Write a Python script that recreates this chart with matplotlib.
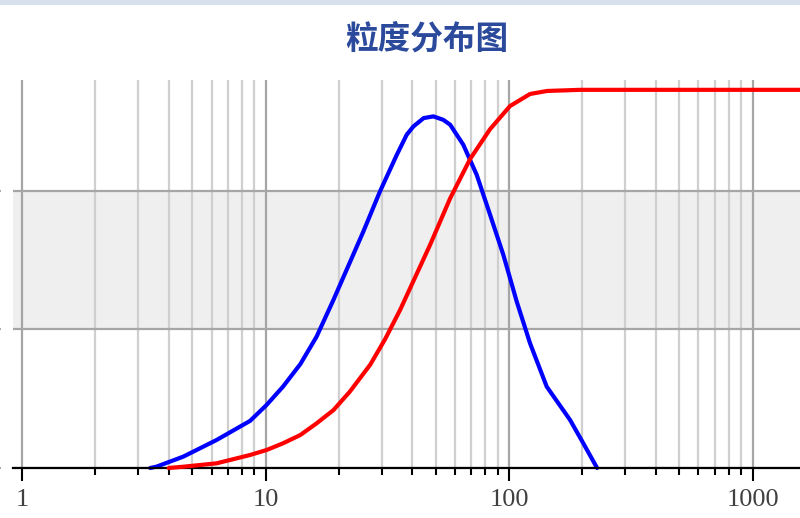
import numpy as np
import matplotlib
matplotlib.use("Agg")
import matplotlib.pyplot as plt
from matplotlib.patches import Rectangle
from matplotlib.ticker import LogLocator, NullFormatter, FixedLocator, FixedFormatter

# ---------------------------------------------------------------------
# data (particle size in um)
size_diff = [3.36, 3.57, 4.60, 6.30, 8.64, 10.1, 11.8, 13.9, 16.2, 19.0,
             25.2, 29.5, 34.6, 38.0, 40.5, 44.6, 48.9, 53.7, 57.3, 61.0,
             64.9, 73.7, 83.6, 94.8, 107.6, 122, 142.8, 178, 202, 230]
pct_diff = [0.0, 0.04, 0.33, 0.81, 1.36, 1.82, 2.35, 3.00, 3.79, 4.85,
            6.82, 7.98, 9.04, 9.62, 9.86, 10.10, 10.15, 10.05, 9.91, 9.62,
            9.33, 8.46, 7.31, 6.15, 4.80, 3.60, 2.35, 1.39, 0.71, 0.0]

size_cum = [4.0, 4.6, 6.3, 8.64, 10.1, 11.8, 13.9, 16.2, 19.0, 22.2,
            26.9, 31.0, 35.7, 47.4, 57.3, 69.2, 83.6, 100.9, 122, 143.3,
            196, 1600]
pct_cum = [0.0, 0.34, 1.24, 3.44, 4.76, 6.53, 8.73, 11.8, 15.3, 20.2,
           27.3, 34.1, 41.8, 59.0, 71.3, 81.7, 89.6, 95.7, 98.9, 99.7,
           100.0, 100.0]

x_ticks = [1, 10, 100, 1000]
x_labels = ["1", "10", "100", "1000"]
y_grid = [0, 4, 8]

TITLE = "粒度分布图"

# ---------------------------------------------------------------------
W, H = 800, 518
fig = plt.figure(figsize=(W / 100, H / 100), dpi=100)
fig.patch.set_facecolor("white")

# thin strip on top
fig.patches.append(Rectangle((0, 1 - 5 / H), 1, 5 / H, transform=fig.transFigure,
                             facecolor="#d7e0ec", edgecolor="none", zorder=0))

left, right, bottom, top = 13, 800, 468, 80
ax = fig.add_axes([left / W, 1 - bottom / H, (right - left) / W, (bottom - top) / H])
ax.set_xscale("log")
ax.set_xlim(0.918, 1567)
ax.set_ylim(0, 11.2)

# alternating band
ax.axhspan(4, 8, color="#efefef", zorder=0, lw=0)

# grid
ax.xaxis.set_major_locator(FixedLocator(x_ticks))
ax.xaxis.set_major_formatter(FixedFormatter(x_labels))
ax.xaxis.set_minor_locator(LogLocator(base=10, subs=np.arange(2, 10)))
ax.xaxis.set_minor_formatter(NullFormatter())
ax.grid(True, which="major", axis="x", color="#a6a6a6", lw=1.6, zorder=1)
ax.grid(True, which="minor", axis="x", color="#cfcfcf", lw=1.6, zorder=1)
ax.set_yticks(y_grid)
ax.set_yticklabels([])
ax.grid(True, which="major", axis="y", color="#a6a6a6", lw=1.6, zorder=1)
ax.set_axisbelow(True)

for s in ["top", "right"]:
    ax.spines[s].set_visible(False)
ax.spines["left"].set_position(("outward", 9))
ax.spines["left"].set_visible(False)
ax.spines["bottom"].set_color("black")
ax.spines["bottom"].set_linewidth(1.6)
ax.spines["bottom"].set_zorder(5)

ax.tick_params(axis="x", which="major", length=9.5, width=1.5, color="black",
               pad=5.5, labelsize=19, labelcolor="#404040")
ax.tick_params(axis="x", which="minor", length=5, width=1.5, color="black")
ax.tick_params(axis="y", which="major", length=3, width=1.2, color="#999999")
for lab in ax.get_xticklabels():
    lab.set_fontfamily("Liberation Serif")

# differential curve (left scale)
ax.plot(size_diff, pct_diff, color="#0000ff", lw=3.0, zorder=4,
        solid_joinstyle="round", solid_capstyle="round", clip_on=False)

# cumulative curve on its own scale
ax2 = ax.twinx()
ax2.set_ylim(0, 102.6)
ax2.set_xlim(ax.get_xlim())
ax2.axis("off")
ax2.plot(size_cum, pct_cum, color="#ff0000", lw=3.0, zorder=4,
         solid_joinstyle="round", solid_capstyle="round", clip_on=False)

fig.text(427 / W, 1 - 39 / H, TITLE, ha="center", va="center",
         fontsize=23.5, color="#2b4a9c", fontweight="bold",
         family=["Noto Sans CJK SC", "DejaVu Sans"])

fig.savefig("out.png", dpi=100)
